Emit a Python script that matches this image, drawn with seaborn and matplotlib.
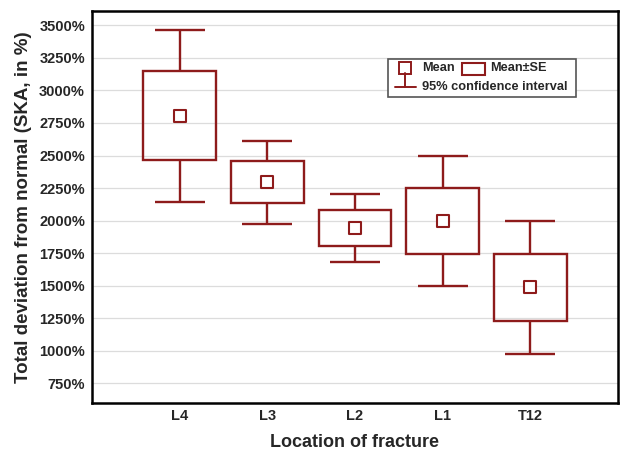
import matplotlib
matplotlib.use("Agg")
import matplotlib.pyplot as plt
from matplotlib.patches import Rectangle
import seaborn as sns
import pandas as pd
import numpy as np

# ---- data ----
locations = ["L4", "L3", "L2", "L1", "T12"]
mean_vals = [2800, 2295, 1946, 2000, 1492]
se_low = [2469, 2136, 1808, 1744, 1228]
se_high = [3146, 2456, 2083, 2252, 1746]
ci_low = [2147, 1976, 1685, 1498, 980]
ci_high = [3466, 2610, 2205, 2498, 2000]
y_ticks = [750, 1000, 1250, 1500, 1750, 2000, 2250, 2500, 2750, 3000, 3250, 3500]

df = pd.DataFrame({"loc": locations, "mean": mean_vals,
                   "se_lo": se_low, "se_hi": se_high,
                   "ci_lo": ci_low, "ci_hi": ci_high})

RED = "#8e1b1b"
sns.set_theme(style="white")
plt.rcParams["font.family"] = ["Liberation Sans", "DejaVu Sans"]

fig = plt.figure(figsize=(6.24, 4.55), dpi=100)
ax = fig.add_axes([92 / 624, 1 - 403 / 455, 526 / 624, 392 / 455])

# grid
for t in y_ticks:
    ax.axhline(t, color="#dcdcdc", lw=0.9, zorder=0)

pos = np.arange(len(locations))
box_w = 0.83
cap_w = 0.57
lw = 1.7

# whiskers (CI)
ax.vlines(pos, df["se_hi"], df["ci_hi"], color=RED, lw=lw, zorder=2)
ax.vlines(pos, df["ci_lo"], df["se_lo"], color=RED, lw=lw, zorder=2)
ax.hlines(df["ci_hi"], pos - cap_w / 2, pos + cap_w / 2, color=RED, lw=lw, zorder=2)
ax.hlines(df["ci_lo"], pos - cap_w / 2, pos + cap_w / 2, color=RED, lw=lw, zorder=2)

# SE boxes
for p, lo, hi in zip(pos, df["se_lo"], df["se_hi"]):
    ax.add_patch(Rectangle((p - box_w / 2, lo), box_w, hi - lo,
                           facecolor="none", edgecolor=RED, lw=lw, zorder=3))

# means
sns.scatterplot(data=df, x="loc", y="mean", marker="s", s=70,
                facecolor="white", edgecolor=RED, linewidth=1.5, ax=ax, zorder=4)

ax.set_xlim(-1, 5)
ax.set_ylim(600, 3610)
ax.set_yticks(y_ticks)
ax.set_yticklabels([f"{t}%" for t in y_ticks], fontsize=10.5, fontweight="bold")
ax.set_xticks(pos)
ax.set_xticklabels(locations, fontsize=10.5, fontweight="bold")
ax.tick_params(axis="both", direction="in", length=3, width=1, color="black")
ax.tick_params(axis="x", pad=4)
ax.tick_params(axis="y", pad=5)

ax.set_xlabel("Location of fracture", fontsize=13, fontweight="bold", labelpad=8)
ax.set_ylabel("Total deviation from normal (SKA, in %)", fontsize=13.5,
              fontweight="bold", labelpad=5)

for s in ax.spines.values():
    s.set_color("black")
    s.set_linewidth(1.8)

# ---- legend drawn by hand ----
T = ax.transAxes
ax.add_patch(Rectangle((0.563, 0.781), 0.357, 0.097, transform=T,
                       facecolor="white", edgecolor="#555555", lw=1.2, zorder=5))
# mean symbol with CI below
ax.plot([0.596], [0.855], marker="s", ms=8, mfc="white", mec=RED, mew=1.4,
        transform=T, zorder=6)
ax.plot([0.596, 0.596], [0.841, 0.805], color=RED, lw=1.4, transform=T, zorder=6)
ax.plot([0.576, 0.616], [0.805, 0.805], color=RED, lw=1.4, transform=T, zorder=6)
ax.text(0.627, 0.855, "Mean", transform=T, fontsize=9.2, fontweight="bold",
        va="center", ha="left", zorder=6)
ax.add_patch(Rectangle((0.703, 0.836), 0.044, 0.031, transform=T,
                       facecolor="white", edgecolor=RED, lw=1.5, zorder=6))
ax.text(0.757, 0.855, "Mean±SE", transform=T, fontsize=9.2, fontweight="bold",
        va="center", ha="left", zorder=6)
ax.text(0.627, 0.806, "95% confidence interval", transform=T, fontsize=9.2,
        fontweight="bold", va="center", ha="left", zorder=6)

fig.savefig("out.png", dpi=100)
